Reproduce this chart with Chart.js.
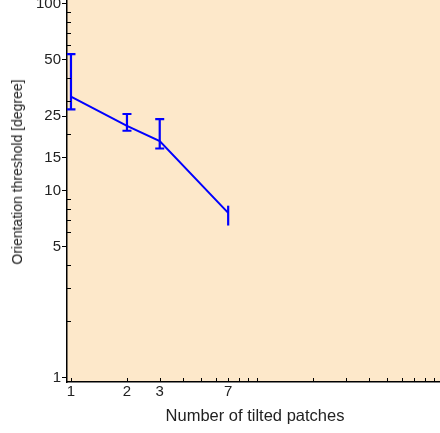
<!DOCTYPE html>
<html lang="en">
<head>
  <meta charset="UTF-8">
  <title>Orientation threshold</title>
  <script src="https://cdnjs.cloudflare.com/ajax/libs/Chart.js/4.4.1/chart.umd.min.js"></script>
  <style>
    html, body { margin: 0; padding: 0; background: #fff; }
    #wrap { position: relative; width: 440px; height: 433px; overflow: hidden; }
    #box { position: absolute; left: 0; top: -4px; width: 443px; height: 441px; }
    #ytitle {
      position: absolute; left: 17px; top: 172px;
      transform: translate(-50%, -50%) rotate(-90deg);
      white-space: nowrap;
      font: 14px 'Liberation Sans', Arial, sans-serif;
      color: #222;
    }
  </style>
</head>
<body>
  <div id="wrap">
    <div id="box"><canvas id="thresholdChart" width="443" height="441"></canvas></div>
    <div id="ytitle">Orientation threshold [degree]</div>
  </div>
  <script>
    // données
    const patches = [1, 2, 3, 7];
    const threshold = [31.8, 22.2, 18.4, 7.6];
    const errLow = [27.2, 20.9, 16.8, 6.5];
    const errHigh = [53.8, 25.7, 24.1, 8.3];

    // graduations
    const xTickLabels = [1, 2, 3, 7];
    const xMinorTicks = [4, 5, 6, 8, 9, 10, 20, 30, 40, 50, 60, 70, 80, 90];
    const yTickLabels = [1, 5, 10, 15, 25, 50, 100];
    const yMinorTicks = [2, 3, 4, 6, 7, 8, 9, 20, 30, 40, 60, 70, 80, 90];

    const font = { family: "'Liberation Sans', Arial, sans-serif", size: 15 };
    const textColor = '#222';

    // fond pêche de la zone de tracé
    const plotBackground = {
      id: 'plotBackground',
      beforeDraw(chart) {
        const { ctx, chartArea: a } = chart;
        ctx.save();
        ctx.fillStyle = '#fde8ca';
        ctx.fillRect(a.left, a.top, a.right - a.left, a.bottom - a.top);
        ctx.restore();
      }
    };

    // petites graduations vers l'intérieur
    const innerTicks = {
      id: 'innerTicks',
      afterDraw(chart) {
        const { ctx, chartArea: a, scales } = chart;
        ctx.save();
        ctx.strokeStyle = '#000';
        ctx.lineWidth = 1;
        ctx.beginPath();
        scales.x.ticks.forEach(t => {
          const px = Math.round(scales.x.getPixelForValue(t.value)) + 0.5;
          ctx.moveTo(px, a.bottom);
          ctx.lineTo(px, a.bottom - 4);
        });
        yMinorTicks.forEach(v => {
          const py = Math.round(scales.y.getPixelForValue(v)) + 0.5;
          ctx.moveTo(a.left, py);
          ctx.lineTo(a.left + 4, py);
        });
        ctx.stroke();
        ctx.restore();
      }
    };

    // barres d'erreur
    const errorBars = {
      id: 'errorBars',
      afterDatasetsDraw(chart) {
        const { ctx, chartArea: a, scales } = chart;
        ctx.save();
        ctx.beginPath();
        ctx.rect(a.left, a.top, a.right - a.left, a.bottom - a.top);
        ctx.clip();
        ctx.strokeStyle = '#0000ff';
        ctx.lineWidth = 2.2;
        patches.forEach((p, i) => {
          const x = scales.x.getPixelForValue(p);
          const yLo = scales.y.getPixelForValue(errLow[i]);
          const yHi = scales.y.getPixelForValue(errHigh[i]);
          const cap = i < patches.length - 1 ? 4.5 : 0;
          ctx.beginPath();
          ctx.moveTo(x, yLo);
          ctx.lineTo(x, yHi);
          if (cap) {
            ctx.moveTo(x - cap, yLo);
            ctx.lineTo(x + cap, yLo);
            ctx.moveTo(x - cap, yHi);
            ctx.lineTo(x + cap, yHi);
          }
          ctx.stroke();
        });
        ctx.restore();
      }
    };

    const ctx = document.getElementById('thresholdChart').getContext('2d');
    new Chart(ctx, {
      type: 'line',
      data: {
        datasets: [{
          data: patches.map((p, i) => ({ x: p, y: threshold[i] })),
          borderColor: '#0000ff',
          borderWidth: 2,
          pointRadius: 0,
          fill: false,
          tension: 0
        }]
      },
      options: {
        responsive: false,
        animation: false,
        layout: { padding: 0 },
        plugins: {
          legend: { display: false },
          tooltip: { enabled: false }
        },
        scales: {
          x: {
            type: 'logarithmic',
            min: 0.952,
            max: 100,
            afterBuildTicks: s => {
              s.ticks = [...xTickLabels, ...xMinorTicks].sort((a, b) => a - b).map(v => ({ value: v }));
            },
            afterFit: s => {
              s.height = 55;
              s.paddingLeft = 0;
              s.paddingRight = 0;
            },
            ticks: {
              autoSkip: false,
              maxRotation: 0,
              padding: 1,
              font: font,
              color: textColor,
              callback: v => xTickLabels.includes(v) ? String(v) : ''
            },
            grid: { display: true, drawOnChartArea: false, drawTicks: false },
            border: { color: '#000', width: 1.5 },
            title: {
              display: true,
              text: 'Number of tilted patches',
              font: { family: font.family, size: 16.5 },
              color: textColor,
              padding: { top: 0, bottom: 11 }
            }
          },
          y: {
            type: 'logarithmic',
            min: 0.945,
            max: 110,
            afterBuildTicks: s => {
              s.ticks = [...yTickLabels, ...yMinorTicks].sort((a, b) => a - b).map(v => ({ value: v }));
            },
            afterFit: s => {
              s.width = 67;
              s.paddingTop = 0;
              s.paddingBottom = 0;
            },
            ticks: {
              autoSkip: false,
              padding: 1,
              font: font,
              color: textColor,
              callback: v => yTickLabels.includes(v) ? String(v) : ''
            },
            grid: {
              display: true,
              drawOnChartArea: false,
              drawTicks: true,
              tickLength: 5,
              tickColor: c => (c.tick && yTickLabels.includes(c.tick.value)) ? '#000' : 'rgba(0,0,0,0)'
            },
            border: { color: '#000', width: 1.5 },
            title: { display: false }
          }
        }
      },
      plugins: [plotBackground, innerTicks, errorBars]
    });
  </script>
</body>
</html>
